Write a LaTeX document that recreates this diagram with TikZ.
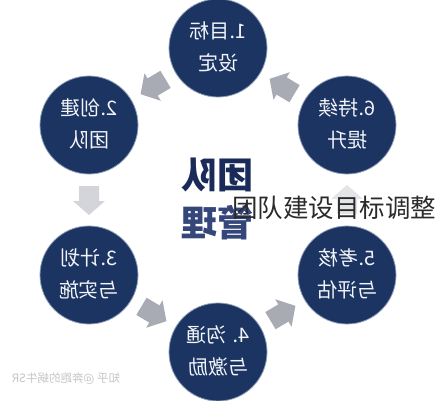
\documentclass[tikz,border=0pt]{standalone}
\usepackage{fontspec}
\usepackage{graphicx}
\usetikzlibrary{calc}
\newfontfamily\cjk{Noto Sans CJK SC}
\definecolor{navy}{HTML}{1B3461}
\definecolor{titlenavy}{HTML}{1A2B5A}
\definecolor{titlelow}{HTML}{34467A}
\definecolor{rimcol}{HTML}{8E9CB8}
\definecolor{circtext}{HTML}{F2F4F8}
\definecolor{arrowdark}{HTML}{A9ABB4}
\definecolor{arrowlight}{HTML}{D4D5DA}
\definecolor{arrowpale}{HTML}{E3E4E7}
\definecolor{wmark}{HTML}{C6C6C6}
\definecolor{overlay}{HTML}{2A2A2A}
\newcommand{\mirtwo}[2]{\reflectbox{\begin{tabular}{@{}c@{}}#1\\#2\end{tabular}}}
% block arrow: position, angle, colour
\newcommand{\blockarr}[3]{%
  \begin{scope}[shift={(#1)}, rotate=#2]
    \fill[#3] (-14,-10) -- (1,-10) -- (1,-16) -- (15,0) -- (1,16) -- (1,10) -- (-14,10) -- cycle;
  \end{scope}}
\tikzset{
  circbox/.style={circle, fill=navy, draw=rimcol, line width=0.8pt, minimum size=98pt, inner sep=0pt,
    text=circtext, font=\cjk\fontsize{20}{32}\selectfont}
}
\begin{document}
\begin{tikzpicture}[x=1pt,y=-1pt]
\fill[white] (0,0) rectangle (437,400);
\useasboundingbox (0,0) rectangle (437,400);
% circles
\node[circbox] (c1) at (218,48) {\mirtwo{1.目标}{设定}};
\node[circbox] (c2) at (89,125) {\mirtwo{2.创建}{团队}};
\node[circbox] (c3) at (89,275) {\mirtwo{3.计划}{与实施}};
\node[circbox] (c4) at (218,352) {\mirtwo{4. 沟通}{与激励}};
\node[circbox] (c5) at (347,275) {\mirtwo{5.考核}{与评估}};
\node[circbox] (c6) at (347,125) {\mirtwo{6.持续}{提升}};
% block arrows between circles
\coordinate (m12) at ($(c1)!0.5!(c2)$);
\coordinate (m23) at ($(c2)!0.5!(c3)$);
\coordinate (m34) at ($(c3)!0.5!(c4)$);
\coordinate (m45) at ($(c4)!0.5!(c5)$);
\coordinate (m56) at ($(c5)!0.5!(c6)$);
\coordinate (m61) at ($(c6)!0.5!(c1)$);
\blockarr{m12}{210.8}{arrowdark}
\blockarr{m23}{-90}{arrowlight}
\blockarr{m34}{-30.8}{arrowdark}
\blockarr{m45}{30.8}{arrowdark}
\blockarr{m56}{90}{arrowpale}
\blockarr{m61}{149.2}{arrowdark}
% centre title
\node[text=titlenavy, font=\cjk\bfseries\fontsize{36}{36}\selectfont, inner sep=0pt] (t1) at (217,175) {\reflectbox{团队}};
\node[text=titlelow, font=\cjk\bfseries\fontsize{36}{36}\selectfont, inner sep=0pt] (t2) at (217,223) {\reflectbox{管理}};
% watermark
\node[text=wmark, font=\cjk\fontsize{11.5}{12}\selectfont, inner sep=0pt] (wm) at (66,379) {\reflectbox{知乎 @奔跑的蜗牛SR}};
% overlay caption
\node[text=overlay, font=\cjk\fontsize{25.5}{26}\selectfont, inner sep=0pt, anchor=west] (cap) at (232,208) {团队建设目标调整};
\end{tikzpicture}
\end{document}
